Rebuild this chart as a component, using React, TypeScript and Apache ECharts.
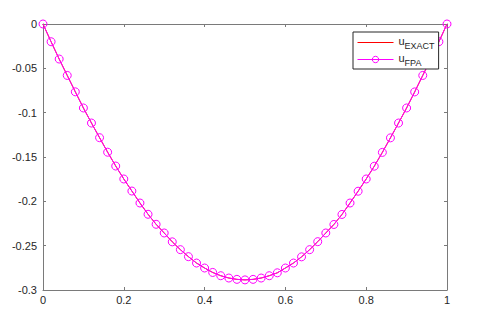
import React, { useEffect, useRef } from "react";
import * as echarts from "echarts";

const xValues = [
  0, 0.02, 0.04, 0.06, 0.08, 0.1, 0.12, 0.14, 0.16, 0.18, 0.2, 0.22, 0.24, 0.26, 0.28, 0.3, 0.32, 0.34, 0.36,
  0.38, 0.4, 0.42, 0.44, 0.46, 0.48, 0.5, 0.52, 0.54, 0.56, 0.58, 0.6, 0.62, 0.64, 0.66, 0.68, 0.7, 0.72,
  0.74, 0.76, 0.78, 0.8, 0.82, 0.84, 0.86, 0.88, 0.9, 0.92, 0.94, 0.96, 0.98, 1,
];

const uFpa = [
  0, -0.02, -0.0395, -0.058, -0.0765, -0.0947, -0.1117, -0.1282, -0.1446, -0.1602, -0.1748, -0.1884, -0.2019,
  -0.2146, -0.2259, -0.2357, -0.2457, -0.2545, -0.2624, -0.2696, -0.2752, -0.2802, -0.2839, -0.2865, -0.288,
  -0.2886, -0.288, -0.2865, -0.2839, -0.2806, -0.2752, -0.2696, -0.2626, -0.2545, -0.2455, -0.2357, -0.2261,
  -0.2148, -0.2019, -0.1886, -0.1748, -0.1604, -0.1448, -0.1284, -0.1117, -0.0947, -0.0766, -0.058, -0.0395,
  -0.02, 0,
];

// exact solution is drawn underneath and coincides with the FPA curve
const uExact = [
  0, -0.02, -0.0395, -0.058, -0.0765, -0.0947, -0.1117, -0.1282, -0.1446, -0.1602, -0.1748, -0.1884, -0.2019,
  -0.2146, -0.2259, -0.2357, -0.2457, -0.2545, -0.2624, -0.2696, -0.2752, -0.2802, -0.2839, -0.2865, -0.288,
  -0.2886, -0.288, -0.2865, -0.2839, -0.2806, -0.2752, -0.2696, -0.2626, -0.2545, -0.2455, -0.2357, -0.2261,
  -0.2148, -0.2019, -0.1886, -0.1748, -0.1604, -0.1448, -0.1284, -0.1117, -0.0947, -0.0766, -0.058, -0.0395,
  -0.02, 0,
];

const seriesNames = ["u_EXACT", "u_FPA"];

const FONT = "Liberation Sans, Arial, sans-serif";
const AXIS_COLOR = "#7a7a7a";
const TEXT_COLOR = "#262626";

export default function App() {
  const ref = useRef<HTMLDivElement>(null);

  useEffect(() => {
    if (!ref.current) return;
    const chart = echarts.init(ref.current, undefined, { renderer: "svg" });
    const fmt = (v: number) => String(+v.toFixed(2));
    const axisCommon = {
      type: "value" as const,
      axisLine: { show: true, onZero: false, lineStyle: { color: AXIS_COLOR, width: 1 } },
      axisTick: { show: true, inside: true, length: 3, lineStyle: { color: AXIS_COLOR } },
      splitLine: { show: false },
    };
    chart.setOption({
      animation: false,
      backgroundColor: "#ffffff",
      grid: { left: 43, top: 24, right: 33, bottom: 37, containLabel: false },
      xAxis: [
        {
          ...axisCommon,
          position: "bottom",
          min: 0,
          max: 1,
          interval: 0.2,
          axisLabel: { color: TEXT_COLOR, fontFamily: FONT, fontSize: 11, margin: 4, formatter: fmt },
        },
        {
          ...axisCommon,
          position: "top",
          min: 0,
          max: 1,
          interval: 0.2,
          axisLabel: { show: false },
        },
      ],
      yAxis: [
        {
          ...axisCommon,
          position: "left",
          min: -0.3,
          max: 0,
          interval: 0.05,
          axisLabel: { color: TEXT_COLOR, fontFamily: FONT, fontSize: 11, margin: 6, formatter: fmt },
        },
        {
          ...axisCommon,
          position: "right",
          min: -0.3,
          max: 0,
          interval: 0.05,
          axisLabel: { show: false },
        },
      ],
      legend: {
        left: 353,
        top: 32,
        orient: "vertical",
        itemWidth: 36,
        itemHeight: 8,
        itemGap: 2,
        padding: [3, 4, 2, 4],
        backgroundColor: "#ffffff",
        borderColor: TEXT_COLOR,
        borderWidth: 1,
        borderRadius: 0,
        lineStyle: { width: 1 },
        data: [
          { name: seriesNames[0], itemStyle: { opacity: 0 } },
          {
            name: seriesNames[1],
            itemStyle: { color: "rgba(255,255,255,0)", borderColor: "#ff00ff", borderWidth: 1 },
          },
        ],
        formatter: (name: string) => {
          const sub = name.split("_")[1];
          return `{u|u}{s|${sub}}`;
        },
        textStyle: {
          fontFamily: FONT,
          color: TEXT_COLOR,
          rich: {
            u: { fontFamily: FONT, fontSize: 11, color: TEXT_COLOR, verticalAlign: "top", lineHeight: 15 },
            s: {
              fontFamily: FONT,
              fontSize: 9,
              color: TEXT_COLOR,
              verticalAlign: "bottom",
              lineHeight: 15,
              padding: [6, 0, 0, 0],
            },
          },
        },
      },
      series: [
        {
          name: seriesNames[0],
          type: "line",
          data: xValues.map((x, i) => [x, uExact[i]]),
          symbol: "none",
          lineStyle: { color: "#ff0000", width: 1 },
          itemStyle: { color: "#ff0000" },
          z: 2,
        },
        {
          name: seriesNames[1],
          type: "line",
          data: xValues.map((x, i) => [x, uFpa[i]]),
          symbol: "circle",
          symbolSize: 8,
          showAllSymbol: true,
          lineStyle: { color: "#ff00ff", width: 1 },
          itemStyle: { color: "rgba(255,255,255,0)", borderColor: "#ff00ff", borderWidth: 1 },
          z: 3,
        },
      ],
    });
    return () => chart.dispose();
  }, []);

  return (
    <div
      ref={ref}
      style={{ position: "fixed", left: 0, top: 0, width: 480, height: 327, background: "#fff" }}
    />
  );
}
